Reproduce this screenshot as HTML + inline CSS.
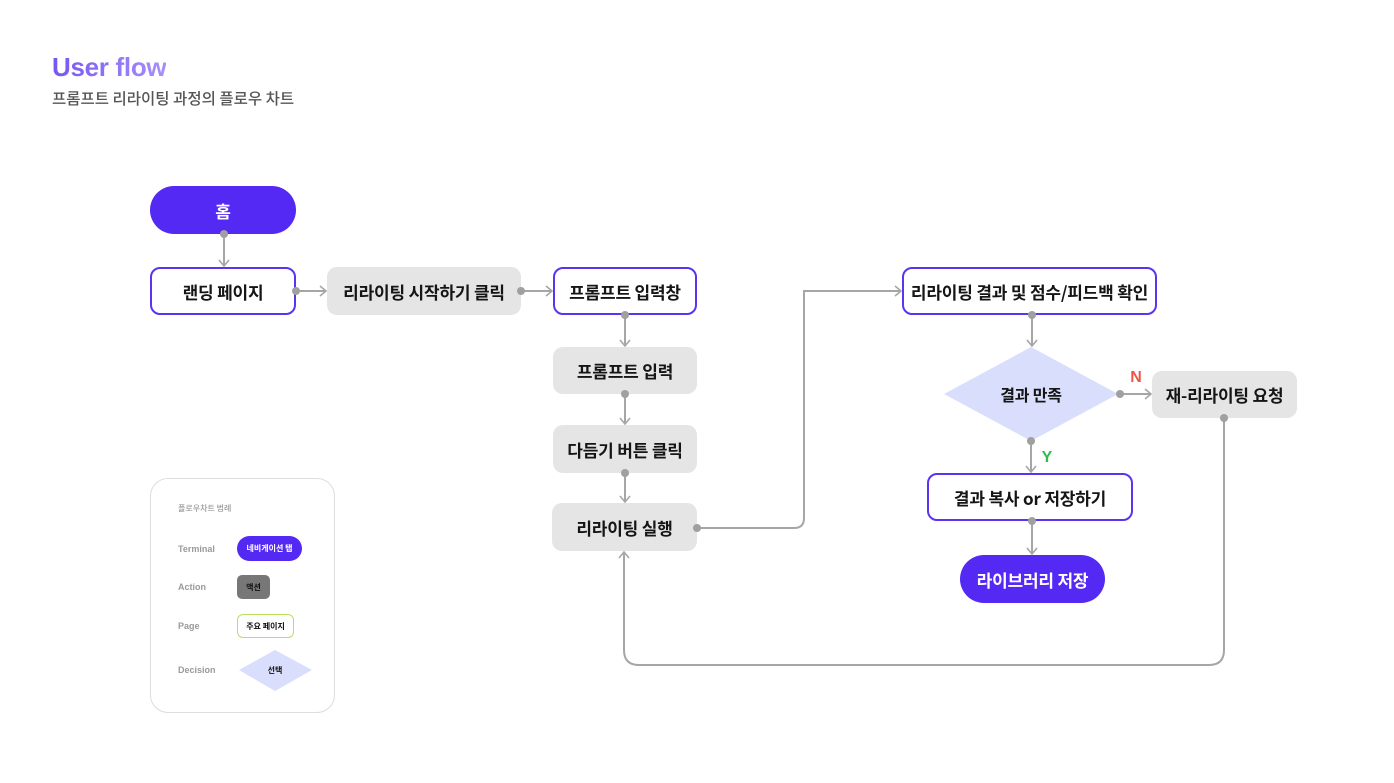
<!DOCTYPE html>
<html><head><meta charset="utf-8">
<style>
*{margin:0;padding:0;box-sizing:border-box}
html,body{width:1394px;height:783px;background:#fff;overflow:hidden}
body{position:relative;font-family:"Liberation Sans","Noto Sans CJK KR",sans-serif}
.t{position:absolute;left:52px;top:51px;font-size:26px;font-weight:bold;letter-spacing:-0.3px;background:linear-gradient(90deg,#7556F2,#A790F9);-webkit-background-clip:text;background-clip:text;color:transparent;line-height:32px}
.st{position:absolute;left:52px;top:88px;font-size:15.5px;color:#555;line-height:20px;font-family:"Noto Sans CJK KR",sans-serif;font-weight:500}
.n{position:absolute;display:flex;align-items:center;justify-content:center;font-family:"Noto Sans CJK KR",sans-serif;font-weight:bold;font-size:17px;color:#151515;letter-spacing:-0.2px;white-space:nowrap}
.term{background:#5429F3;color:#fff;border-radius:24px}
.page{background:#fff;border:2px solid #5B33F0;border-radius:10px}
.act{background:#E5E5E5;border-radius:10px}
svg{position:absolute;left:0;top:0}
.lg{position:absolute;left:150px;top:478px;width:185px;height:235px;border:1px solid #DDDDDD;border-radius:18px;background:#fff}
.ll{position:absolute;font-size:9px;color:#9A9A9A;font-family:"Liberation Sans","Noto Sans CJK KR",sans-serif;font-weight:bold;line-height:12px}
.ln{position:absolute;display:flex;align-items:center;justify-content:center;font-family:"Noto Sans CJK KR",sans-serif;font-weight:bold;font-size:8px;color:#111;white-space:nowrap}
</style></head><body>
<div class="t">User flow</div>
<div class="st">프롬프트 리라이팅 과정의 플로우 차트</div>

<svg width="1394" height="783" viewBox="0 0 1394 783">
<polygon points="1031,347 1118,394 1031,441 944,394" fill="#D9DEFD"/>
</svg>

<div class="n term" style="left:150px;top:186px;width:146px;height:48px">홈</div>
<div class="n page" style="left:150px;top:267px;width:146px;height:48px">랜딩 페이지</div>
<div class="n act" style="left:327px;top:267px;width:194px;height:48px">리라이팅 시작하기 클릭</div>
<div class="n page" style="left:553px;top:267px;width:144px;height:48px">프롬프트 입력창</div>
<div class="n act" style="left:553px;top:347px;width:144px;height:47px">프롬프트 입력</div>
<div class="n act" style="left:553px;top:425px;width:144px;height:48px">다듬기 버튼 클릭</div>
<div class="n act" style="left:552px;top:503px;width:145px;height:48px">리라이팅 실행</div>
<div class="n page" style="left:902px;top:267px;width:255px;height:48px">리라이팅 결과 및 점수/피드백 확인</div>
<div class="n" style="left:981px;top:380px;width:100px;height:28px;font-size:16px">결과 만족</div>
<div class="n act" style="left:1152px;top:371px;width:145px;height:47px">재-리라이팅 요청</div>
<div class="n page" style="left:927px;top:473px;width:206px;height:48px">결과 복사 or 저장하기</div>
<div class="n term" style="left:960px;top:555px;width:145px;height:48px">라이브러리 저장</div>

<svg width="1394" height="783" viewBox="0 0 1394 783">
<defs>
<marker id="a" viewBox="0 0 12 12" refX="10" refY="6" markerWidth="12" markerHeight="12" markerUnits="userSpaceOnUse" orient="auto">
<path d="M4 1 L10 6 L4 11" fill="none" stroke="#A6A6A6" stroke-width="1.6"/>
</marker>
</defs>
<g fill="none" stroke="#A6A6A6" stroke-width="2">
<line x1="224" y1="234" x2="224" y2="266" marker-end="url(#a)"/>
<line x1="296" y1="291" x2="326" y2="291" marker-end="url(#a)"/>
<line x1="521" y1="291" x2="552" y2="291" marker-end="url(#a)"/>
<line x1="625" y1="315" x2="625" y2="346" marker-end="url(#a)"/>
<line x1="625" y1="394" x2="625" y2="424" marker-end="url(#a)"/>
<line x1="625" y1="473" x2="625" y2="502" marker-end="url(#a)"/>
<path d="M697 528 H794 Q804 528 804 518 V291 H901" marker-end="url(#a)"/>
<line x1="1032" y1="315" x2="1032" y2="346" marker-end="url(#a)"/>
<line x1="1118" y1="394" x2="1151" y2="394" marker-end="url(#a)"/>
<line x1="1031" y1="441" x2="1031" y2="472" marker-end="url(#a)"/>
<line x1="1032" y1="521" x2="1032" y2="554" marker-end="url(#a)"/>
<path d="M1224 418 V650 Q1224 665 1209 665 H639 Q624 665 624 650 V552" marker-end="url(#a)"/>
</g>
<g fill="#A0A0A0">
<circle cx="224" cy="234" r="4"/>
<circle cx="296" cy="291" r="4"/>
<circle cx="521" cy="291" r="4"/>
<circle cx="625" cy="315" r="4"/>
<circle cx="625" cy="394" r="4"/>
<circle cx="625" cy="473" r="4"/>
<circle cx="697" cy="528" r="4"/>
<circle cx="1032" cy="315" r="4"/>
<circle cx="1120" cy="394" r="4"/>
<circle cx="1031" cy="441" r="4"/>
<circle cx="1032" cy="521" r="4"/>
<circle cx="1224" cy="418" r="4"/>
</g>
<text x="1136" y="382" font-family="Liberation Sans, sans-serif" font-weight="bold" font-size="16" fill="#F0554A" text-anchor="middle">N</text>
<text x="1047" y="462" font-family="Liberation Sans, sans-serif" font-weight="bold" font-size="16" fill="#2DBE4E" text-anchor="middle">Y</text>
</svg>

<div class="lg"></div>
<div class="ll" style="left:178px;top:503px;font-family:'Noto Sans CJK KR',sans-serif;font-weight:500;font-size:8px">플로우차트 범례</div>
<div class="ll" style="left:178px;top:543px">Terminal</div>
<div class="ln" style="left:237px;top:536px;width:65px;height:25px;background:#5429F3;color:#fff;border-radius:13px">네비게이션 탭</div>
<div class="ll" style="left:178px;top:581px">Action</div>
<div class="ln" style="left:237px;top:575px;width:33px;height:24px;background:#777;border-radius:5px">액션</div>
<div class="ll" style="left:178px;top:620px">Page</div>
<div class="ln" style="left:237px;top:614px;width:57px;height:24px;border:1px solid #B7E05C;border-radius:6px;background:#fff">주요 페이지</div>
<div class="ll" style="left:178px;top:664px">Decision</div>
<svg width="1394" height="783" style="pointer-events:none"><polygon points="275,650 312,670 275,691 239,670" fill="#D9DEFD"/></svg>
<div class="ln" style="left:255px;top:662px;width:40px;height:16px">선택</div>
</body></html>
